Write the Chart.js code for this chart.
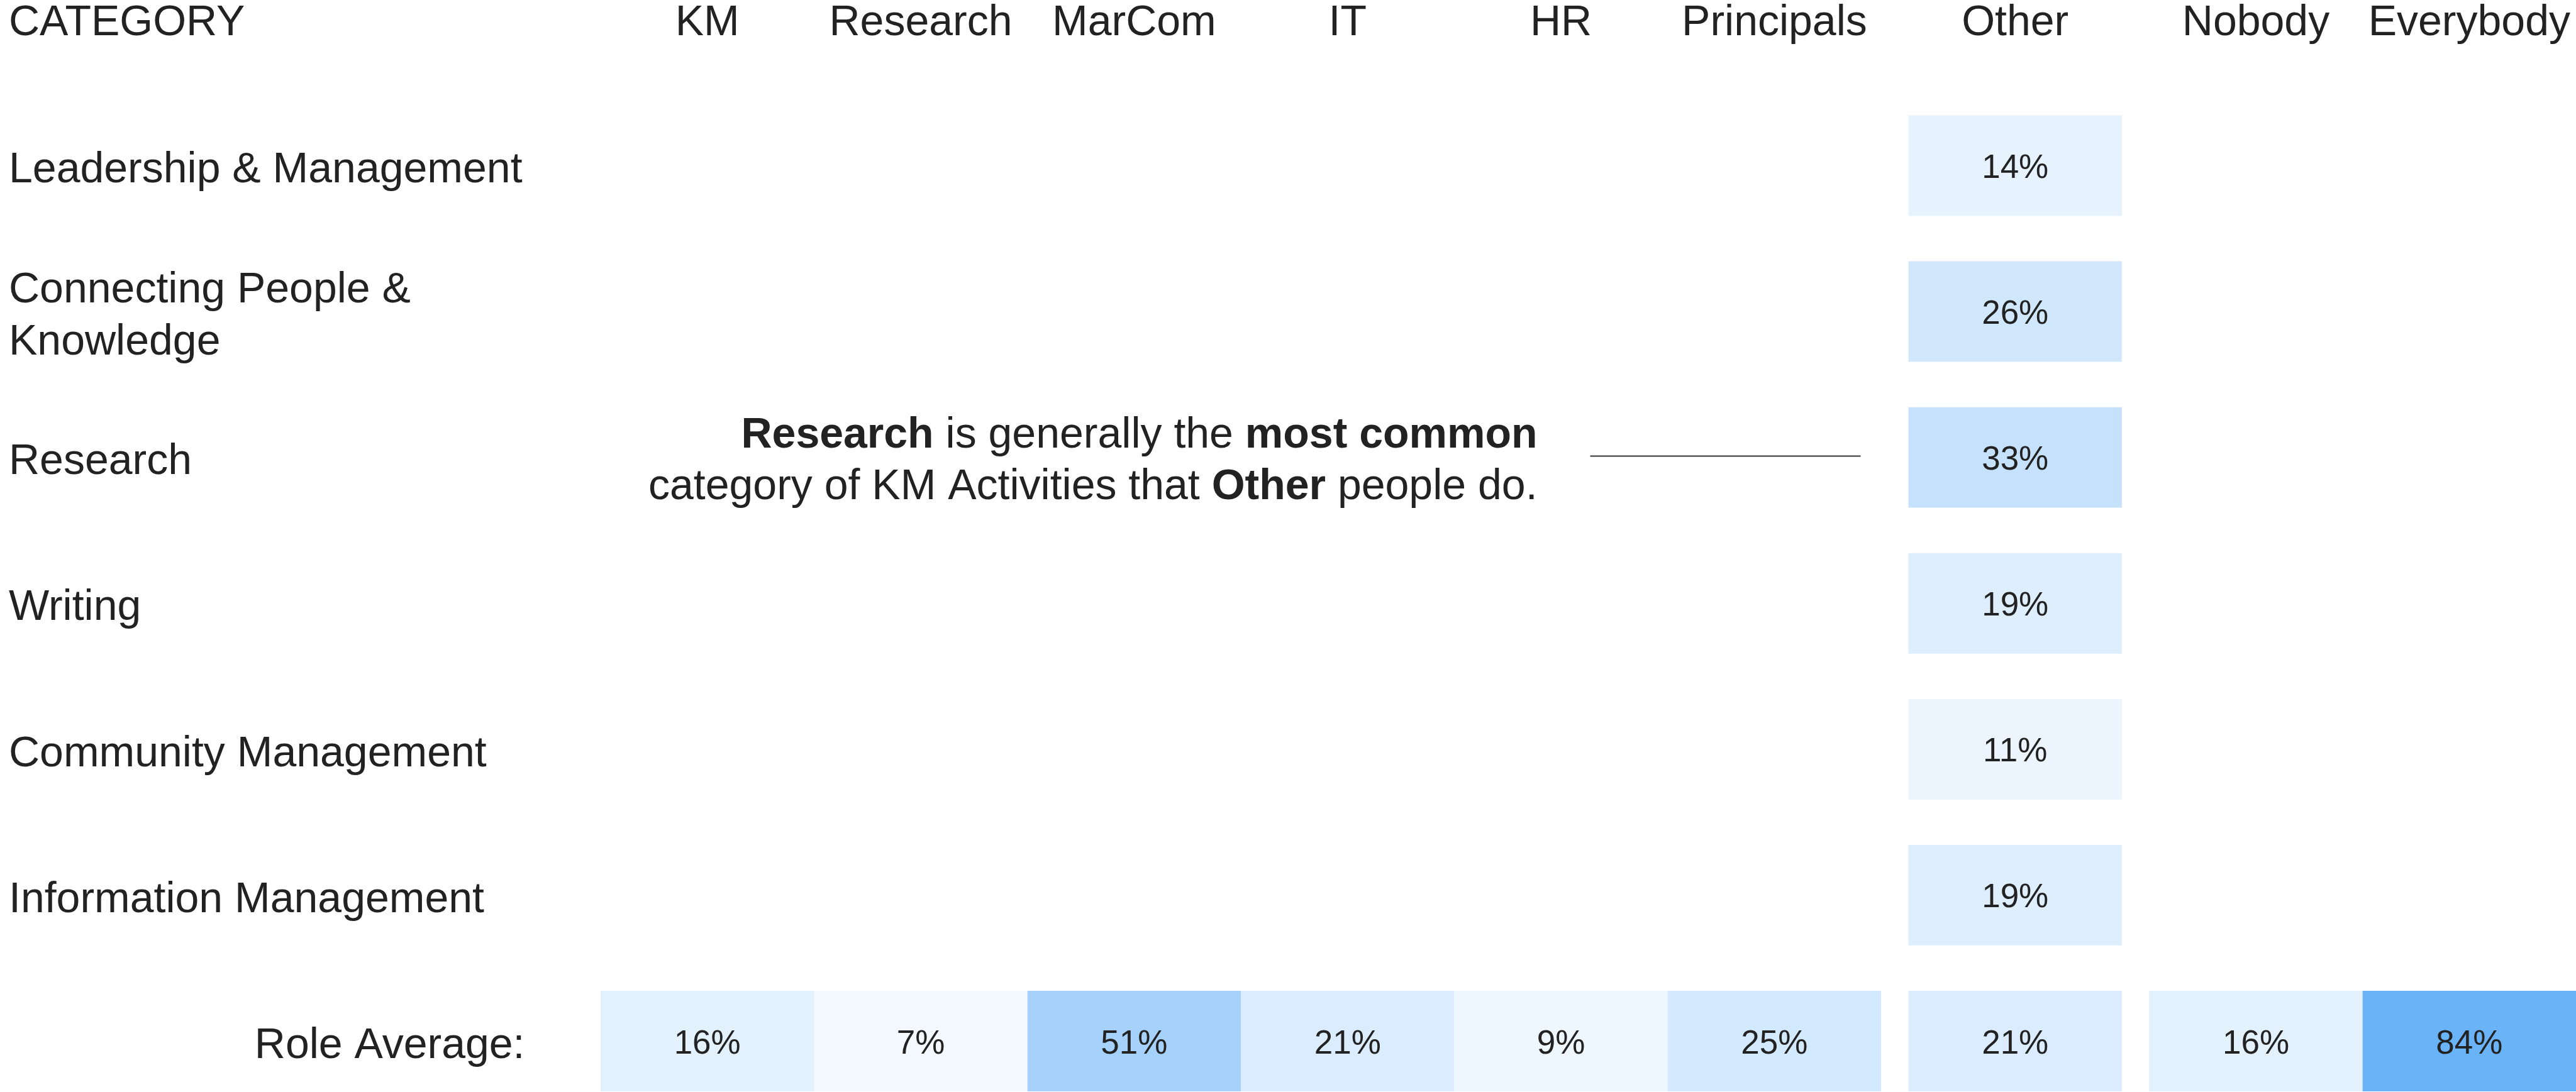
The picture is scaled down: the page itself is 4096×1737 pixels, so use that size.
<!DOCTYPE html>
<html>
<head>
<meta charset="utf-8">
<title>KM Activities by Role</title>
<script src="https://cdn.jsdelivr.net/npm/chart.js@4"></script>
<style>
  html, body { margin: 0; padding: 0; background: #fff; overflow: hidden; }
  #frame { width: 4096px; height: 1737px; overflow: hidden; }
  canvas { display: block; }
</style>
</head>
<body>
<div id="frame">
  <canvas id="heatmap" width="4096" height="1772"></canvas>
</div>
<script>
// Roles across the top, activity categories down the side
const roles = ['KM', 'Research', 'MarCom', 'IT', 'HR', 'Principals', 'Other', 'Nobody', 'Everybody'];
const roleGroups = [0, 0, 0, 0, 0, 0, 1, 2, 2];
const categories = [
    'Leadership & Management',
    ['Connecting People &', 'Knowledge'],
    'Research',
    'Writing',
    'Community Management',
    'Information Management'
];
const averageLabel = 'Role Average:';

// Share of "Other" people doing each category (%)
const otherShares = [14, 26, 33, 19, 11, 19];
// Average over all categories, per role (%)
const roleAverages = [16, 7, 51, 21, 9, 25, 21, 16, 84];

// Callout text, as [text, bold] runs per line
const note = [
    [['Research', true], [' is generally the ', false], ['most common', true]],
    [['category of KM Activities that ', false], ['Other', true], [' people do.', false]]
];

const FONT = '"Liberation Sans", Arial, Helvetica, sans-serif';
const INK = '#222';
const GROUP_GAP = 0.128;          // space between role groups, in column widths
const HIGH = [79, 165, 245];      // colour at 100%
const X_TICK_PAD = 69;
const TEXT_DROP = 8;              // canvas 'middle' sits a little high for this face

function colStart(i) {
    return i + roleGroups[i] * GROUP_GAP;
}

// white -> blue, proportional to the share
function shade(v) {
    const t = v / 100;
    const c = HIGH.map(h => Math.round(255 - t * (255 - h)));
    return `rgb(${c[0]}, ${c[1]}, ${c[2]})`;
}

const otherCol = roles.indexOf('Other');
const cells = [];
otherShares.forEach((v, r) => {
    cells.push({ x: [colStart(otherCol), colStart(otherCol) + 1], y: r, v: v });
});
roleAverages.forEach((v, c) => {
    cells.push({ x: [colStart(c), colStart(c) + 1], y: categories.length, v: v });
});

const cellLabels = {
    id: 'cellLabels',
    afterDatasetsDraw(chart) {
        const { ctx } = chart;
        const meta = chart.getDatasetMeta(0);
        ctx.save();
        ctx.font = `53px ${FONT}`;
        ctx.fillStyle = INK;
        ctx.textAlign = 'center';
        ctx.textBaseline = 'middle';
        meta.data.forEach((bar, i) => {
            const { x, y } = bar.getCenterPoint();
            ctx.fillText(cells[i].v + '%', x, y + 5);
        });
        ctx.restore();
    }
};

const extras = {
    id: 'extras',
    afterDraw(chart) {
        const { ctx, chartArea } = chart;
        const xs = chart.scales.x;
        const ys = chart.scales.y;
        ctx.save();
        ctx.fillStyle = INK;

        // column header for the category labels
        ctx.font = `68px ${FONT}`;
        ctx.textAlign = 'left';
        ctx.textBaseline = 'middle';
        ctx.fillText('CATEGORY', 14, xs.bottom - X_TICK_PAD - 68 * 1.2 / 2);

        // summary row label, right aligned against the grid
        ctx.textAlign = 'right';
        ctx.fillText(averageLabel, chartArea.left - 120.5,
            ys.getPixelForValue(categories.length) + TEXT_DROP);

        // callout next to the Research row
        const otherLeft = xs.getPixelForValue(colStart(otherCol));
        const rowY = ys.getPixelForValue(categories.indexOf('Research'));
        const right = otherLeft - 590;
        ctx.textBaseline = 'alphabetic';
        ctx.textAlign = 'left';
        const baselines = [rowY - 16, rowY + 66];
        note.forEach((line, li) => {
            const fonts = line.map(([, bold]) => `${bold ? 'bold ' : ''}68px ${FONT}`);
            let width = 0;
            line.forEach(([text], k) => {
                ctx.font = fonts[k];
                width += ctx.measureText(text).width;
            });
            let x = right - width;
            line.forEach(([text], k) => {
                ctx.font = fonts[k];
                ctx.fillText(text, x, baselines[li]);
                x += ctx.measureText(text).width;
            });
        });

        ctx.strokeStyle = '#333';
        ctx.lineWidth = 2;
        ctx.beginPath();
        ctx.moveTo(otherLeft - 506, rowY - 2);
        ctx.lineTo(otherLeft - 76, rowY - 2);
        ctx.stroke();
        ctx.restore();
    }
};

new Chart(document.getElementById('heatmap'), {
    type: 'bar',
    data: {
        labels: [...categories, averageLabel],
        datasets: [{
            data: cells,
            backgroundColor: ctx => shade(ctx.raw.v),
            borderWidth: 0,
            barPercentage: 0.689,
            categoryPercentage: 1,
            grouped: false
        }]
    },
    options: {
        indexAxis: 'y',
        responsive: false,
        animation: false,
        layout: { padding: { left: 14, top: 0, right: 0, bottom: 0 } },
        plugins: {
            legend: { display: false },
            tooltip: { enabled: false }
        },
        scales: {
            x: {
                type: 'linear',
                position: 'top',
                min: 0,
                max: colStart(roles.length - 1) + 1,
                grid: { display: false, drawTicks: false },
                border: { display: false },
                afterBuildTicks: scale => {
                    scale.ticks = roles.map((r, i) => ({ value: colStart(i) + 0.5 }));
                },
                afterFit: scale => {
                    scale.height = 147.4;
                    scale.paddingLeft = 0;
                    scale.paddingRight = 0;
                },
                ticks: {
                    autoSkip: false,
                    maxRotation: 0,
                    padding: X_TICK_PAD,
                    color: INK,
                    font: { family: FONT, size: 68, lineHeight: 1.2 },
                    callback: (value, index) => roles[index]
                }
            },
            y: {
                type: 'category',
                position: 'left',
                offset: true,
                grid: { display: false, drawTicks: false },
                border: { display: false },
                afterFit: scale => {
                    scale.width = 941;
                    scale.paddingTop = 0;
                    scale.paddingBottom = 0;
                },
                ticks: {
                    autoSkip: false,
                    crossAlign: 'far',
                    labelOffset: TEXT_DROP,
                    color: INK,
                    font: { family: FONT, size: 68, lineHeight: 1.22 },
                    callback: function (value, index) {
                        return index === categories.length ? '' : this.getLabelForValue(value);
                    }
                }
            }
        }
    },
    plugins: [cellLabels, extras]
});
</script>
</body>
</html>
